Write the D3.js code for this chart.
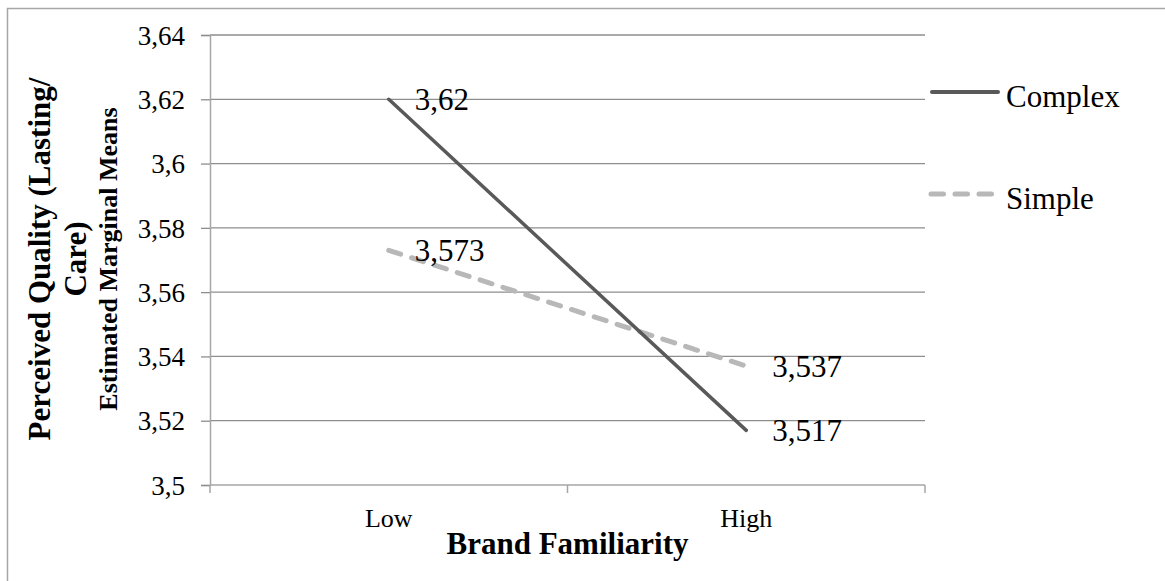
<!DOCTYPE html>
<html>
<head>
<meta charset="utf-8">
<script src="https://cdn.jsdelivr.net/npm/d3@7"></script>
<style>
  html, body { margin: 0; padding: 0; background: #fff; }
  svg { display: block; font-family: "Liberation Serif", "Times New Roman", serif; }
</style>
</head>
<body>
<svg id="chart" width="1165" height="581"></svg>
<script>
// ---- data ----
const categories = ["Low", "High"];
const seriesNames = ["Complex", "Simple"];
const complexValues = [3.62, 3.517];
const simpleValues = [3.573, 3.537];
const complexLabels = ["3,62", "3,517"];
const simpleLabels = ["3,573", "3,537"];
const yTicks = [3.5, 3.52, 3.54, 3.56, 3.58, 3.6, 3.62, 3.64];
const yTickLabels = ["3,5", "3,52", "3,54", "3,56", "3,58", "3,6", "3,62", "3,64"];
const xTitle = "Brand Familiarity";
const yTitleLines = ["Perceived Quality (Lasting/", "Care)"];
const yTitle2 = "Estimated Marginal Means";

// ---- layout ----
const svg = d3.select("#chart");
const plot = { left: 210, right: 925, top: 35, bottom: 485 };

// outer frame
svg.append("path")
  .attr("d", "M7.5,581 V8.5 H1165")
  .attr("fill", "none").attr("stroke", "#a6a6a6").attr("stroke-width", 1.5);

const x = d3.scaleBand().domain(categories).range([plot.left, plot.right]).padding(0);
const xc = d => x(d) + x.bandwidth() / 2;
const y = d3.scaleLinear().domain([3.5, 3.64]).range([plot.bottom, plot.top]);

// gridlines
svg.append("g").selectAll("line").data(yTicks.slice(1)).join("line")
  .attr("x1", plot.left).attr("x2", plot.right)
  .attr("y1", d => y(d)).attr("y2", d => y(d))
  .attr("stroke", "#8e8e8e").attr("stroke-width", 1.3);

// y axis
const yAxis = d3.axisLeft(y).tickValues(yTicks)
  .tickFormat((d, i) => yTickLabels[i]).tickSize(9).tickPadding(16);
const gy = svg.append("g").attr("transform", `translate(${plot.left},0)`).call(yAxis);
gy.select(".domain").attr("stroke", "#a6a6a6").attr("stroke-width", 1.5);
gy.selectAll(".tick line").attr("stroke", "#8e8e8e").attr("stroke-width", 1.3);
gy.selectAll(".tick text").attr("font-size", 27).attr("fill", "#000")
  .attr("font-family", "Liberation Serif").attr("dy", "0.34em");

// x axis
const xAxis = d3.axisBottom(x).tickSize(0).tickPadding(0);
const gx = svg.append("g").attr("transform", `translate(0,${plot.bottom})`).call(xAxis);
gx.select(".domain").attr("stroke", "#a6a6a6").attr("stroke-width", 1.5).attr("d", `M${plot.left},0H${plot.right}`);
gx.selectAll(".tick text").attr("font-size", 26).attr("fill", "#000")
  .attr("font-family", "Liberation Serif").attr("y", 42).attr("dy", 0);
// x tick marks at band boundaries
const bounds = [plot.left, x("High"), plot.right];
svg.append("g").selectAll("line").data(bounds).join("line")
  .attr("x1", d => d).attr("x2", d => d)
  .attr("y1", plot.bottom).attr("y2", plot.bottom + 8)
  .attr("stroke", "#a6a6a6").attr("stroke-width", 1.5);

// lines
const line = d3.line().x((d, i) => xc(categories[i])).y(d => y(d));
svg.append("path").datum(simpleValues).attr("d", line)
  .attr("fill", "none").attr("stroke", "#b8b8b8").attr("stroke-width", 5)
  .attr("stroke-dasharray", "12.5,11.5").attr("stroke-linecap", "round");
svg.append("path").datum(complexValues).attr("d", line)
  .attr("fill", "none").attr("stroke", "#595959").attr("stroke-width", 3.5)
  .attr("stroke-linecap", "round");

// data labels
function labels(vals, labs) {
  svg.append("g").selectAll("text").data(vals).join("text")
    .attr("x", (d, i) => xc(categories[i]) + 26)
    .attr("y", d => y(d)).attr("dy", "0.34em")
    .attr("font-size", 31).attr("fill", "#000")
    .text((d, i) => labs[i]);
}
labels(complexValues, complexLabels);
labels(simpleValues, simpleLabels);

// legend
const legend = svg.append("g");
const legendY = [92, 194];
legend.append("line").attr("x1", 932).attr("x2", 998).attr("y1", legendY[0]).attr("y2", legendY[0])
  .attr("stroke", "#595959").attr("stroke-width", 4).attr("stroke-linecap", "round");
legend.append("line").attr("x1", 931).attr("x2", 993).attr("y1", legendY[1]).attr("y2", legendY[1])
  .attr("stroke", "#b8b8b8").attr("stroke-width", 5)
  .attr("stroke-dasharray", "12.5,11.5").attr("stroke-linecap", "round");
legend.selectAll("text").data(seriesNames).join("text")
  .attr("x", 1006).attr("y", (d, i) => legendY[i] + 15)
  .attr("font-size", 31).attr("fill", "#000").text(d => d);

// axis titles
svg.append("text").attr("x", (plot.left + plot.right) / 2).attr("y", 554)
  .attr("text-anchor", "middle").attr("font-size", 31).attr("font-weight", "bold")
  .text(xTitle);

const cy = (plot.top + plot.bottom) / 2 - 1;
const yT = svg.append("g");
yTitleLines.forEach((t, i) => {
  const bx = [50, 86][i];
  yT.append("text").attr("transform", `translate(${bx},${cy}) rotate(-90)`)
    .attr("text-anchor", "middle").attr("font-size", 31).attr("font-weight", "bold").text(t);
});
yT.append("text").attr("transform", `translate(117,${cy}) rotate(-90)`)
  .attr("text-anchor", "middle").attr("font-size", 26).attr("font-weight", "bold").text(yTitle2);
</script>
</body>
</html>
